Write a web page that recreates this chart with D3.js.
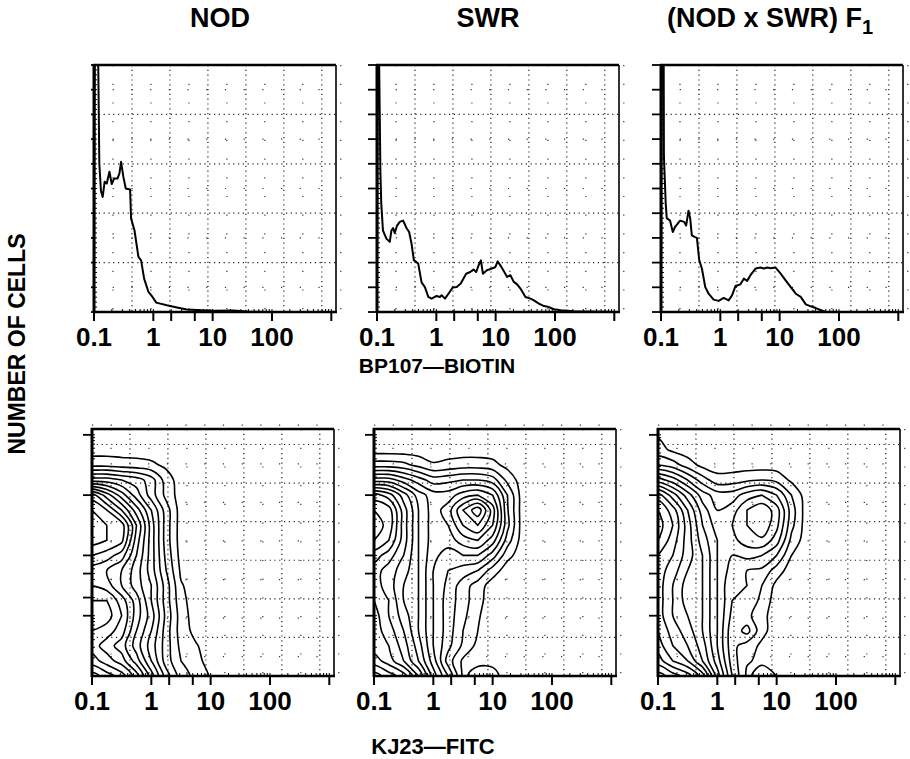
<!DOCTYPE html>
<html>
<head>
<meta charset="utf-8">
<script src="https://cdn.jsdelivr.net/npm/d3@7/dist/d3.min.js"></script>
<style>
  body { margin: 0; background: #fff; }
  text { font-family: "Liberation Sans", Arial, sans-serif; font-weight: bold; fill: #000; }
</style>
</head>
<body>
<svg id="chart" width="910" height="759"></svg>
<script>
// ---- data ----
const strains = ['NOD', 'SWR', '(NOD x SWR) F'];
const xTickLabels = [0.1, 1, 10, 100];
const logTicks = [0.1, 1, 2, 5, 10, 100, 1000];

// histograms: [fluorescence, cell count in tick units (0-10)]
const histNOD = [[0.1,0],[0.104,14],[0.113,14],[0.120,8.3],[0.123,6.0],[0.131,4.9],[0.140,4.66],
  [0.151,5.27],[0.164,5.2],[0.182,5.68],[0.199,5.18],[0.218,5.4],[0.248,5.4],[0.268,5.6],
  [0.286,6.08],[0.313,5.47],[0.343,5.0],[0.406,4.96],[0.422,3.78],[0.481,3.31],[0.561,2.23],
  [0.622,2.09],[0.700,1.35],[0.828,0.81],[0.968,0.61],[1.12,0.38],[1.69,0.27],[2.5,0.18],
  [3.68,0.1],[5.43,0.08],[10.4,0.05],[22.6,0.06],[38,0.02],[83,0],[1200,0]];
const histSWR = [[0.1,0],[0.104,14],[0.111,8.2],[0.114,5.7],[0.118,4.4],[0.126,3.3],[0.144,2.97],
  [0.164,2.84],[0.175,3.3],[0.187,3.4],[0.199,3.2],[0.218,3.5],[0.242,3.65],[0.276,3.7],
  [0.314,3.4],[0.348,3.24],[0.382,2.77],[0.418,2.1],[0.495,1.96],[0.564,1.2],[0.642,1.01],
  [0.732,0.61],[0.834,0.54],[1.01,0.65],[1.15,0.61],[1.23,0.68],[1.40,0.54],[1.60,0.74],
  [1.89,0.99],[2.21,1.01],[2.58,1.15],[3.18,1.55],[3.72,1.62],[4.24,1.72],[4.70,1.62],
  [5.15,1.89],[5.64,2.09],[6.10,1.55],[7.13,1.69],[8.67,1.76],[9.87,1.82],[10.8,2.05],
  [12.0,1.89],[13.7,1.66],[15.6,1.42],[17.7,1.49],[20.2,1.22],[23.0,1.12],[26.2,0.95],
  [31.8,0.61],[38.7,0.54],[44.1,0.47],[53.6,0.34],[65.2,0.24],[79.1,0.2],[96.2,0.11],
  [125,0.07],[209,0.03],[1200,0]];
const histF1 = [[0.1,0],[0.104,14],[0.110,14],[0.112,6.3],[0.120,4.4],[0.125,3.8],[0.142,3.7],
  [0.158,3.24],[0.173,3.45],[0.210,3.7],[0.245,3.65],[0.265,3.5],[0.291,4.1],[0.310,3.8],
  [0.331,3.1],[0.367,3.04],[0.403,3.0],[0.441,2.1],[0.489,1.76],[0.557,1.01],[0.634,0.74],
  [0.771,0.5],[0.937,0.45],[1.14,0.57],[1.38,0.47],[1.58,0.68],[1.80,1.05],[2.18,1.12],
  [2.49,1.35],[2.83,1.26],[3.22,1.49],[3.92,1.76],[4.76,1.8],[5.42,1.76],[6.18,1.8],
  [7.03,1.77],[8.55,1.8],[10.4,1.55],[12.6,1.28],[15.4,1.01],[18.7,0.74],[22.7,0.61],
  [27.6,0.31],[33.5,0.23],[40.7,0.16],[49.5,0.07],[60.2,0],[1200,0]];

// contour maps: number of enclosing contour lines, rows log10(y) = 3 .. -1 (step 0.25),
// columns log10(x) = -1 .. 1.5 (step 0.25)
const gridLogStep = 0.25;
const contourNOD = [
  [0,0,0,0,0,0,0,0,0,0,0],
  [0,0,0,0,0,0,0,0,0,0,0],
  [1.2,1.2,1,0.9,0.7,0.3,0,0,0,0,0],
  [5,5,4.5,4,3,1,0,0,0,0,0],
  [11,9,7,5,3,1.2,0,0,0,0,0],
  [12.5,11.5,9.5,7,4.5,2,0,0,0,0,0],
  [13,12.5,12,8.5,5,2,0,0,0,0,0],
  [13,12.5,11.8,8,5,2,0,0,0,0,0],
  [11.5,11,10,7.5,5,2.2,0.1,0,0,0,0],
  [10,9.5,8.5,7,5,2.5,0.3,0,0,0,0],
  [10.5,10,8.5,7,5.5,3,0.6,0,0,0,0],
  [11.5,11.5,10,8,5.5,3,0.8,0,0,0,0],
  [12,12,10.5,8,6,3.2,1,0,0,0,0],
  [11.5,11,10,7.5,5.5,3,1,0.2,0,0,0],
  [11,10,9,7,5,3,1.2,0.6,0,0,0],
  [12,11,10,8,5.5,3,1.5,0.9,0,0,0],
  [14,13,12,10,7,4,2,1.2,0.4,0,0]
];
const contourSWR = [
  [0,0,0,0,0,0,0,0,0,0,0],
  [0,0,0,0,0,0,0,0,0,0,0],
  [2,2,1.8,1.2,0.6,0.8,1,1,0.8,0.2,0],
  [6,6,5,4,3,3.2,3.5,3.5,3,1.2,0],
  [11,10,8,6,5,5,6,6.5,5.5,2.5,0],
  [12.5,12,9,6.5,5,6,8.5,10.2,7,2.6,0],
  [13,12.2,9,6.5,5,5.5,7.5,8.5,6.5,2.8,0],
  [12.5,11.5,9,6.5,5,5,6,6.5,5,2,0],
  [11,10,8.5,6.5,4.8,4,4.5,4.5,3,0.8,0],
  [10,9,8,6.5,4.5,3.5,3,2.5,1,0,0],
  [10,9,7.5,6.5,4.5,3.2,2,1,0,0,0],
  [10.5,9.5,7.5,6.5,4.5,3,2,0.8,0,0,0],
  [11,9.5,8,6.5,4.5,3,1.8,0.6,0,0,0],
  [11,10,8.5,6.5,4.5,3,1.5,0.5,0,0,0],
  [11,10.5,9,7,4.5,2.8,1.3,0.2,0,0,0],
  [12,11,9.5,7.5,5,2,0.3,0.2,0.2,0,0],
  [14,13,12,9.5,6,3.5,0.3,1.0,0.9,0,0]
];
const contourF1 = [
  [0.4,0,0,0,0,0,0,0,0,0,0],
  [0.9,0.3,0,0,0,0,0,0,0,0,0],
  [2.5,2,1,0.2,0,0,0,0,0,0,0],
  [6,5,3.5,2,0.9,1,1.3,1.5,1.2,0.3,0],
  [10,8,6,4,3,3,4,4.5,3.5,1.5,0],
  [11.5,10,7.5,5,3.5,4,5.5,6.3,5,2,0],
  [12,10.5,8,5.5,4,4.5,5.5,6.3,4.8,1.8,0],
  [11.5,10,8,6,4.5,4.2,5,5.3,4,1.2,0],
  [10.5,9.5,8,6.5,4.5,3.5,3.8,3.5,2.5,0.5,0],
  [10,9,7.5,6.5,4.5,3,2.5,2.3,1,0,0],
  [10,8.5,7,6.5,4.5,2.5,2.5,1.5,0.2,0,0],
  [10,8.5,7,6.5,4.5,2.5,2.3,1.2,0,0,0],
  [10,8.5,7.5,6.5,4.5,2.2,1.8,0.8,0,0,0],
  [10.5,9,8,6.5,4.5,1.8,2.9,0.8,0,0,0],
  [11,9.5,8.5,7,4.5,1.8,1,0.3,0,0,0],
  [12,10.5,9.5,7.5,5,2,0.6,0.3,0.2,0,0],
  [14,13,12,10,6,2.5,0.3,1.0,0.5,0,0]
];
const contourLevels = d3.range(0.5, 14, 1);

const histograms = [histNOD, histSWR, histF1];
const contourMaps = [contourNOD, contourSWR, contourF1];

// ---- layout ----
const pw = 242, ph = 247;
const topLefts = [94, 377, 661], topY = 65;
const botLefts = [92, 374, 658], botY = 429;
const leftTickLen = [3, 9, 9];
const gridDecades = 0.64;

const svg = d3.select('#chart');

const x = d3.scaleLog().domain([0.1, 1200]).range([0, pw]);
const yCount = d3.scaleLinear().domain([0, 10]).range([ph, 0]);
const yLog = d3.scaleLog().domain([0.1, 1250]).range([ph, 0]);

const gridVals = d3.range(1, 7).map(k => 0.1 * Math.pow(10, k * gridDecades));
const gridHalf = d3.range(0, 7).map(k => 0.1 * Math.pow(10, (k + 0.5) * gridDecades));
const minorLog = [];
[-1, 0, 1, 2, 3].forEach(e => d3.range(1, 10).forEach(m => {
  const v = m * Math.pow(10, e);
  if (v >= 0.1 && v <= 1200) minorLog.push(v);
}));

// vertical dotted grid
function vGrid(g) {
  g.append('g').selectAll('line').data(gridHalf).join('line')
    .attr('x1', d => x(d)).attr('x2', d => x(d)).attr('y1', 0).attr('y2', ph)
    .attr('stroke', '#333').attr('stroke-width', 1.2).attr('stroke-dasharray', '1.2,17.5');
  g.append('g').selectAll('line').data(gridVals).join('line')
    .attr('x1', d => x(d)).attr('x2', d => x(d)).attr('y1', 0).attr('y2', ph)
    .attr('stroke', '#222').attr('stroke-width', 1.2).attr('stroke-dasharray', '1.2,3.6');
}

// horizontal dotted grid
function hGrid(g, yScale, major, minor) {
  g.append('g').selectAll('line').data(minor).join('line')
    .attr('x1', 0).attr('x2', pw).attr('y1', d => yScale(d)).attr('y2', d => yScale(d))
    .attr('stroke', '#333').attr('stroke-width', 1.2).attr('stroke-dasharray', '1.2,17.5');
  g.append('g').selectAll('line').data(major).join('line')
    .attr('x1', 0).attr('x2', pw).attr('y1', d => yScale(d)).attr('y2', d => yScale(d))
    .attr('stroke', '#222').attr('stroke-width', 1.2).attr('stroke-dasharray', '1.2,3.6');
}

function axes(g, yScale, yTicks, yMinor, tickLen) {
  // left ticks (outward) and ruler marks (inward)
  g.append('g').selectAll('line').data(yTicks).join('line')
    .attr('x1', -tickLen).attr('x2', 0).attr('y1', d => yScale(d)).attr('y2', d => yScale(d))
    .attr('stroke', '#000').attr('stroke-width', 1.8);
  g.append('g').selectAll('line').data(yMinor).join('line')
    .attr('x1', 0).attr('x2', 3).attr('y1', d => yScale(d)).attr('y2', d => yScale(d))
    .attr('stroke', '#000').attr('stroke-width', 1);
  // bottom ticks
  g.append('g').selectAll('line').data(logTicks).join('line')
    .attr('x1', d => x(d)).attr('x2', d => x(d)).attr('y1', ph).attr('y2', ph + 9)
    .attr('stroke', '#000').attr('stroke-width', 2);
  g.append('g').selectAll('line').data(minorLog).join('line')
    .attr('x1', d => x(d)).attr('x2', d => x(d)).attr('y1', ph - 3).attr('y2', ph)
    .attr('stroke', '#000').attr('stroke-width', 1);
  // border
  g.append('line').attr('x1', -1).attr('x2', pw).attr('y1', 0).attr('y2', 0)
    .attr('stroke', '#000').attr('stroke-width', 2.6);
  g.append('line').attr('x1', pw).attr('x2', pw).attr('y1', 0).attr('y2', ph)
    .attr('stroke', '#000').attr('stroke-width', 1.6);
  g.append('line').attr('x1', 0).attr('x2', 0).attr('y1', -1).attr('y2', ph + 1)
    .attr('stroke', '#000').attr('stroke-width', 3);
  g.append('line').attr('x1', -1).attr('x2', pw + 1).attr('y1', ph).attr('y2', ph)
    .attr('stroke', '#000').attr('stroke-width', 2.6);
  // tick labels
  g.append('g').selectAll('text').data(xTickLabels).join('text')
    .attr('x', d => x(d)).attr('y', ph + 34)
    .attr('text-anchor', 'middle').style('font-size', '26px')
    .text(d => d);
}

// ---- top row: histograms ----
const countTicks = d3.range(0, 11);
const countMinor = d3.range(0, 10.01, 0.2);
histograms.forEach((hist, i) => {
  const g = svg.append('g').attr('transform', `translate(${topLefts[i]},${topY})`);
  g.append('clipPath').attr('id', 'clipH' + i)
    .append('rect').attr('x', 0).attr('y', -1).attr('width', pw).attr('height', ph + 1);
  vGrid(g);
  hGrid(g, yCount, [2, 4, 6, 8], [1, 3, 5, 7, 9]);
  const line = d3.line().x(d => x(d[0])).y(d => yCount(d[1]));
  g.append('path').datum(hist)
    .attr('clip-path', `url(#clipH${i})`)
    .attr('d', line)
    .attr('fill', 'none').attr('stroke', '#000').attr('stroke-width', 2)
    .attr('stroke-linejoin', 'round');
  axes(g, yCount, countTicks, countMinor, leftTickLen[i]);
});

// ---- bottom row: contour plots ----
const logGridMajor = d3.range(1, 7).map(k => 0.1 * Math.pow(10, k * gridDecades));
const logGridMinor = d3.range(0, 7).map(k => 0.1 * Math.pow(10, (k + 0.5) * gridDecades));

contourMaps.forEach((rows, i) => {
  const g = svg.append('g').attr('transform', `translate(${botLefts[i]},${botY})`);
  g.append('clipPath').attr('id', 'clipC' + i)
    .append('rect').attr('x', 0).attr('y', 0).attr('width', pw).attr('height', ph);
  vGrid(g);
  hGrid(g, yLog, logGridMajor, logGridMinor);

  // pad: zero row on top, repeat bottom row, repeat left column, zero column on right
  const padded = [rows[0].map(() => 0)].concat(rows, [rows[rows.length - 1]])
    .map(r => [r[0]].concat(r, [0]));
  const nx = padded[0].length, ny = padded.length;
  const values = [].concat(...padded);
  const top = 3 + gridLogStep, left = -1 - gridLogStep;
  const px = gx => x(Math.pow(10, left + (gx - 0.5) * gridLogStep));
  const py = gy => yLog(Math.pow(10, top - (gy - 0.5) * gridLogStep));
  const contours = d3.contours().size([nx, ny]).thresholds(contourLevels)(values);
  const ring = d3.line().curve(d3.curveCatmullRomClosed.alpha(0.5));
  const cg = g.append('g').attr('clip-path', `url(#clipC${i})`);
  contours.forEach(c => {
    c.coordinates.forEach(poly => poly.forEach(r => {
      const pts = r.slice(0, -1).map(p => [px(p[0]), py(p[1])]);
      cg.append('path').attr('d', ring(pts))
        .attr('fill', 'none').attr('stroke', '#000').attr('stroke-width', 1.6);
    }));
  });
  axes(g, yLog, logTicks.slice(1), minorLog, 9);
});

// ---- titles ----
svg.append('text').attr('x', 220).attr('y', 27).attr('text-anchor', 'middle')
  .style('font-size', '27px').text(strains[0]);
svg.append('text').attr('x', 488).attr('y', 27).attr('text-anchor', 'middle')
  .style('font-size', '27px').text(strains[1]);
const t3 = svg.append('text').attr('x', 667).attr('y', 27).style('font-size', '27px').text(strains[2]);
t3.append('tspan').attr('dy', 7).style('font-size', '20px').text('1');

svg.append('text').attr('x', 437).attr('y', 373).attr('text-anchor', 'middle')
  .style('font-size', '21px').text('BP107\u2014BIOTIN');
svg.append('text').attr('x', 433).attr('y', 754).attr('text-anchor', 'middle')
  .style('font-size', '22px').text('KJ23\u2014FITC');
svg.append('text').attr('transform', 'translate(25,344) rotate(-90)').attr('text-anchor', 'middle')
  .style('font-size', '23px').text('NUMBER OF CELLS');
</script>
</body>
</html>
